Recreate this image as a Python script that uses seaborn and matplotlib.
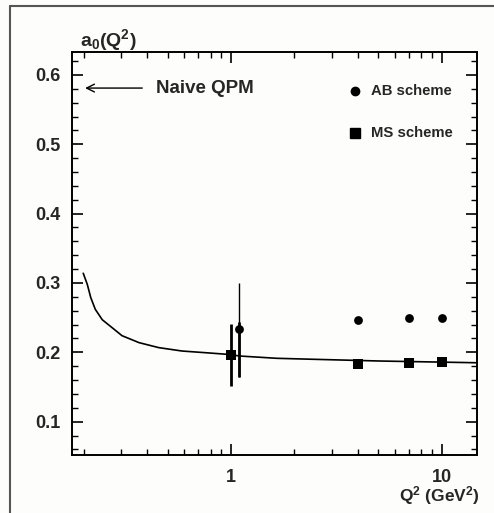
import numpy as np
import pandas as pd
import matplotlib
matplotlib.use("Agg")
import matplotlib.pyplot as plt
from matplotlib.lines import Line2D
from matplotlib.ticker import FixedLocator, NullFormatter, FuncFormatter, MultipleLocator
import seaborn as sns

# ---- data ----
curve_q = [0.199, 0.208, 0.216, 0.227, 0.245, 0.273, 0.304, 0.366, 0.454, 0.586, 0.755, 0.975,
           1.10, 1.65, 2.45, 5.08, 14.6]
curve_a0 = [0.314, 0.298, 0.279, 0.262, 0.247, 0.2355, 0.224, 0.214, 0.2068, 0.2019, 0.1995, 0.197,
            0.1947, 0.1914, 0.190, 0.1875, 0.185]

ab_q = [1.09, 4.0, 7.0, 10.0]
ab_a0 = [0.233, 0.246, 0.249, 0.249]
ab_err_lo = [0.068, 0.0, 0.0, 0.0]
ab_err_hi = [0.067, 0.0, 0.0, 0.0]
ab_stat_hi = [0.011, 0.0, 0.0, 0.0]

ms_q = [1.0, 4.0, 7.0, 10.0]
ms_a0 = [0.196, 0.1837, 0.185, 0.186]
ms_err = [0.045, 0.0, 0.0, 0.0]

naive_qpm = 0.581
y_ticks = [0.1, 0.2, 0.3, 0.4, 0.5, 0.6]
x_ticks = [1, 10]
legend_labels = ["AB scheme", "MS scheme"]

# ---- style ----
sns.set_style("ticks")
plt.rcParams["font.family"] = ["Liberation Sans", "DejaVu Sans"]
plt.rcParams["font.weight"] = "bold"
plt.rcParams["mathtext.fontset"] = "custom"
plt.rcParams["mathtext.rm"] = "Liberation Sans:bold"
plt.rcParams["mathtext.it"] = "Liberation Sans:bold"
plt.rcParams["mathtext.bf"] = "Liberation Sans:bold"
plt.rcParams["mathtext.default"] = "rm"

W, H = 494, 513
fig = plt.figure(figsize=(W / 100, H / 100), dpi=100)
fig.patch.set_facecolor("#fdfdfb")
ax = fig.add_axes([72 / W, 1 - 455 / H, (477 - 72) / W, (455 - 52) / H])
ax.set_facecolor("#fdfdfb")

ax.set_xscale("log")
ax.set_xlim(0.176, 14.7)
ax.set_ylim(0.052, 0.633)

curve_df = pd.DataFrame({"q": curve_q, "a0": curve_a0})
sns.lineplot(data=curve_df, x="q", y="a0", ax=ax, color="black", lw=1.2, sort=True)

ab_df = pd.DataFrame({"q": ab_q, "a0": ab_a0})
ms_df = pd.DataFrame({"q": ms_q, "a0": ms_a0})

# error bars
ax.errorbar(ab_q, ab_a0, yerr=[ab_err_lo, ab_err_hi], fmt="none", ecolor="black", elinewidth=1.0, capsize=0)
ax.errorbar(ab_q, ab_a0, yerr=[ab_err_lo, ab_stat_hi], fmt="none", ecolor="black", elinewidth=2.0, capsize=0)
ax.errorbar(ms_q, ms_a0, yerr=ms_err, fmt="none", ecolor="black", elinewidth=2.0, capsize=0)

sns.scatterplot(data=ab_df, x="q", y="a0", ax=ax, marker="o", s=40, color="black", edgecolor="black", linewidth=0, zorder=5)
sns.scatterplot(data=ms_df, x="q", y="a0", ax=ax, marker="s", s=50, color="black", edgecolor="black", linewidth=0, zorder=5)

# Naive QPM arrow
ax.annotate("", xy=(0.197, naive_qpm), xytext=(0.391, naive_qpm),
            arrowprops=dict(arrowstyle="->", color="black", lw=1.0, mutation_scale=14))
ax.text(0.44, naive_qpm, "Naive QPM", fontsize=13.5, fontweight="bold", va="center", ha="left")

# legend (manual)
ax.plot([(355 - 72) / (477 - 72)], [(455 - 91) / (455 - 52)], "o", color="black", ms=6, transform=ax.transAxes, clip_on=False)
ax.plot([(355 - 72) / (477 - 72)], [(455 - 133) / (455 - 52)], "s", color="black", ms=6.5, transform=ax.transAxes, clip_on=False)
ax.text((371 - 72) / (477 - 72), (455 - 91) / (455 - 52), legend_labels[0], transform=ax.transAxes,
        fontsize=10.7, fontweight="bold", va="center", ha="left")
ax.text((371 - 72) / (477 - 72), (455 - 133) / (455 - 52), legend_labels[1], transform=ax.transAxes,
        fontsize=10.7, fontweight="bold", va="center", ha="left")

# axes ticks
ax.yaxis.set_major_locator(FixedLocator(y_ticks))
ax.yaxis.set_minor_locator(MultipleLocator(0.02))
ax.yaxis.set_major_formatter(FuncFormatter(lambda v, p: f"{v:.1f}"))
ax.xaxis.set_major_locator(FixedLocator(x_ticks))
ax.xaxis.set_major_formatter(FuncFormatter(lambda v, p: f"{v:g}"))
minors = [m * 10.0 ** e for e in (-1, 0, 1) for m in range(2, 10)]
ax.xaxis.set_minor_locator(FixedLocator(minors))
ax.xaxis.set_minor_formatter(NullFormatter())

ax.tick_params(which="both", direction="in", top=True, right=True, color="black")
ax.tick_params(which="major", length=8, width=1.2, labelsize=13)
ax.tick_params(axis="y", which="major", pad=8)
ax.tick_params(axis="x", which="major", pad=10)
ax.tick_params(which="minor", length=4.5, width=1.0)
for lab in ax.get_xticklabels() + ax.get_yticklabels():
    lab.set_fontweight("bold")
for s in ax.spines.values():
    s.set_linewidth(1.4)
    s.set_color("black")

ax.set_xlabel("")
ax.set_ylabel("")
fig.text(80 / W, 1 - 40 / H, "a$_0$(Q$^2$)", fontsize=14, fontweight="bold", ha="left", va="center")
fig.text(480 / W, 1 - 496 / H, "Q$^2$ (GeV$^2$)", fontsize=12.5, fontweight="bold", ha="right", va="center")

# outer frame lines (top and left)
fig.add_artist(Line2D([10 / W, 1.0], [1 - 6 / H, 1 - 6 / H], transform=fig.transFigure, color="#555555", lw=1.5))
fig.add_artist(Line2D([10 / W, 10 / W], [0.0, 1 - 6 / H], transform=fig.transFigure, color="#555555", lw=1.5))

fig.savefig("out.png", dpi=100, facecolor=fig.get_facecolor())
